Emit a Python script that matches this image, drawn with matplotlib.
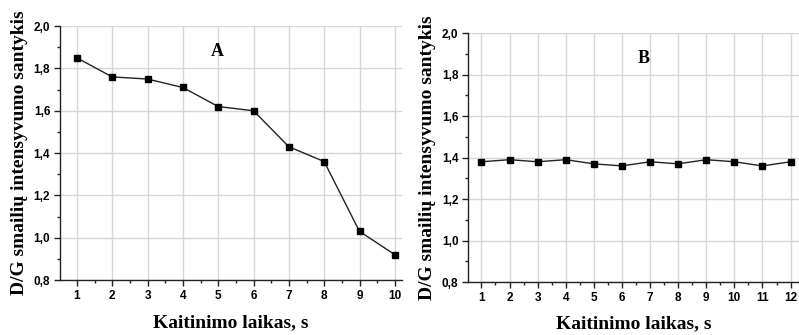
import matplotlib
matplotlib.use("Agg")
import matplotlib.pyplot as plt
from matplotlib.ticker import MultipleLocator, FuncFormatter

# Heating time (s) and D/G peak intensity ratio for the two samples
time_a = [1, 2, 3, 4, 5, 6, 7, 8, 9, 10]
ratio_a = [1.85, 1.76, 1.75, 1.71, 1.62, 1.60, 1.43, 1.36, 1.03, 0.92]

time_b = [1, 2, 3, 4, 5, 6, 7, 8, 9, 10, 11, 12]
ratio_b = [1.38, 1.39, 1.38, 1.39, 1.37, 1.36, 1.38, 1.37, 1.39, 1.38, 1.36, 1.38]

panel_labels = ["A", "B"]
x_label = "Kaitinimo laikas, s"
y_label = "D/G smailių intensyvumo santykis"

fig = plt.figure(figsize=(7.99, 3.35), dpi=100)
ax_a = fig.add_axes([0.075, 0.164, 0.428, 0.758])
ax_b = fig.add_axes([0.586, 0.158, 0.414, 0.743])

serif = "Liberation Serif"
sans = "Liberation Sans"
comma = FuncFormatter(lambda v, p: f"{v:.1f}".replace(".", ","))


def style(ax, xs, ys, xlim, label, label_pos, xpad):
    ax.plot(xs, ys, color="#222222", lw=1.0, marker="s", ms=4.5,
            mfc="black", mec="black", zorder=3)
    ax.set_xlim(*xlim)
    ax.set_ylim(0.8, 2.0)
    ax.xaxis.set_major_locator(MultipleLocator(1))
    ax.xaxis.set_minor_locator(MultipleLocator(0.5))
    ax.yaxis.set_major_locator(MultipleLocator(0.2))
    ax.yaxis.set_minor_locator(MultipleLocator(0.1))
    ax.yaxis.set_major_formatter(comma)
    ax.grid(True, which="major", color="#d6d6d6", lw=1.0)
    ax.set_axisbelow(True)
    for s in ("top", "right"):
        ax.spines[s].set_visible(False)
    for s in ("left", "bottom"):
        ax.spines[s].set_linewidth(1.0)
        ax.spines[s].set_color("#222222")
    ax.tick_params(which="major", direction="out", length=4, width=1,
                   labelsize=8.5, pad=3, color="#222222")
    ax.tick_params(which="minor", direction="out", length=2, width=1,
                   color="#222222")
    for t in ax.get_xticklabels() + ax.get_yticklabels():
        t.set_fontfamily(sans)
        t.set_fontweight("bold")
    ax.set_xlabel(x_label, fontfamily=serif, fontweight="bold",
                  fontsize=14, labelpad=xpad)
    ax.set_ylabel(y_label, fontfamily=serif, fontweight="bold",
                  fontsize=14, labelpad=4)
    ax.text(label_pos[0], label_pos[1], label, transform=ax.transAxes,
            fontfamily=serif, fontweight="bold", fontsize=13,
            ha="center", va="center")


style(ax_a, time_a, ratio_a, (0.52, 10.2), panel_labels[0], (0.46, 0.9), 9)
style(ax_b, time_b, ratio_b, (0.53, 12.3), panel_labels[1], (0.53, 0.9), 8)

fig.savefig("out.png", dpi=100)
